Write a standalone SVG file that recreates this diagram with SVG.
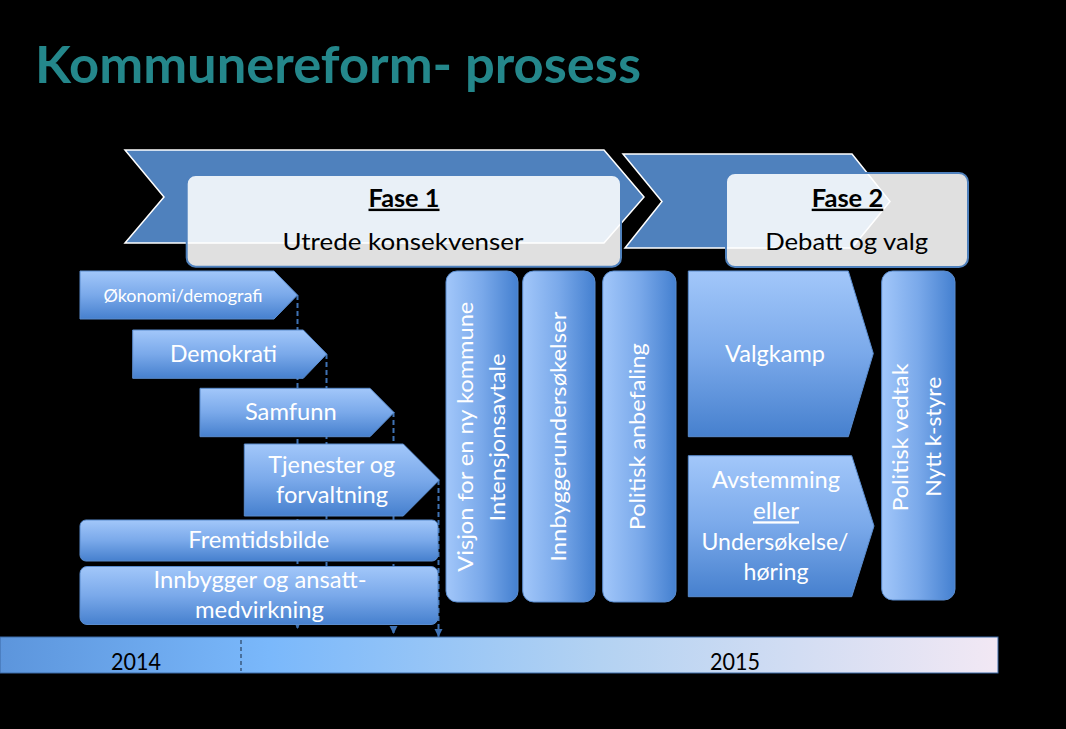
<svg xmlns="http://www.w3.org/2000/svg" width="1066" height="729" viewBox="0 0 1066 729">
<defs>
<style>
text{font-family:Lato,"Open Sans","Liberation Sans",sans-serif;}
.lbl{fill:#ffffff;font-size:23px;text-anchor:middle;}
.sm{font-size:17.5px;}
.rot{fill:#ffffff;font-size:21px;text-anchor:middle;}
.fase{fill:#000000;font-size:24px;text-anchor:middle;}
.yr{fill:#000000;font-size:23px;text-anchor:middle;}
.chev{fill:#4f81bd;stroke:#ffffff;stroke-width:1.5;}
.fbox{fill:#ffffff;fill-opacity:0.88;stroke:#4f81bd;stroke-width:2;}
.pv{fill:url(#gV);stroke:#5a8cce;stroke-width:1;}
.ph{fill:url(#gH);stroke:#5a8cce;stroke-width:1;}
.dash{fill:none;stroke:#3f72b4;stroke-width:2;stroke-dasharray:5 3;}
</style>
<linearGradient id="gV" x1="0" y1="0" x2="0" y2="1">
<stop offset="0" stop-color="#a2c7fa"/>
<stop offset="0.5" stop-color="#7aa9ea"/>
<stop offset="1" stop-color="#4680ce"/>
</linearGradient>
<linearGradient id="gH" x1="0" y1="0" x2="1" y2="0">
<stop offset="0" stop-color="#a2c7fa"/>
<stop offset="0.5" stop-color="#7aa9ea"/>
<stop offset="1" stop-color="#4480d0"/>
</linearGradient>
<linearGradient id="gT" x1="0" y1="0" x2="1" y2="0">
<stop offset="0" stop-color="#5c95dc"/>
<stop offset="0.27" stop-color="#7ab8fb"/>
<stop offset="0.6" stop-color="#b3d2f2"/>
<stop offset="1" stop-color="#f2e8f4"/>
</linearGradient>
<marker id="ah" markerUnits="userSpaceOnUse" markerWidth="9" markerHeight="9" refX="8" refY="4.5" orient="auto">
<path d="M0,0.5 L8,4.5 L0,8.5 z" fill="#3f72b4"/>
</marker>
</defs>
<rect x="0" y="0" width="1066" height="729" fill="#000000"/>

<g id="title">
<text x="35" y="82.7" font-size="51" font-weight="bold" fill="#24878b" textLength="606" lengthAdjust="spacingAndGlyphs">Kommunereform- prosess</text>
</g>

<g id="phase1">
<polygon class="chev" points="125,150 604,150 644,197 604,243 125,243 164,197"/>
</g>
<g id="phase2">
<polygon class="chev" points="623,154 852,154 890,201.5 852,248 625,248 662,201.5"/>
</g>
<g id="fase1-box">
<rect class="fbox" x="186.7" y="175" width="434.3" height="91.7" rx="9"/>
<text class="fase" x="404" y="206.7" font-weight="bold" text-decoration="underline" textLength="71" lengthAdjust="spacingAndGlyphs">Fase 1</text>
<text class="fase" x="403" y="249.5" textLength="241" lengthAdjust="spacingAndGlyphs">Utrede konsekvenser</text>
</g>
<g id="fase2-box">
<rect class="fbox" x="726" y="173" width="242" height="94" rx="9"/>
<text class="fase" x="847.5" y="206.7" font-weight="bold" text-decoration="underline" textLength="71.6" lengthAdjust="spacingAndGlyphs">Fase 2</text>
<text class="fase" x="846.7" y="249.5" textLength="163" lengthAdjust="spacingAndGlyphs">Debatt og valg</text>
</g>

<g id="connectors">
<line class="dash" x1="297.5" y1="295" x2="297.5" y2="629" marker-end="url(#ah)"/>
<line class="dash" x1="326.5" y1="354" x2="326.5" y2="600"/>
<line class="dash" x1="393.5" y1="412" x2="393.5" y2="634" marker-end="url(#ah)"/>
<line class="dash" x1="438.5" y1="480" x2="438.5" y2="637" marker-end="url(#ah)"/>
</g>

<g id="okonomi">
<polygon class="pv" points="80,271 274,271 297.5,295 274,319 80,319"/>
<text class="lbl sm" x="183" y="301.7" textLength="159" lengthAdjust="spacingAndGlyphs">Økonomi/demografi</text>
</g>
<g id="demokrati">
<polygon class="pv" points="132.7,330 303.3,330 326.7,354 303.3,378.3 132.7,378.3"/>
<text class="lbl" x="223.5" y="361.7" textLength="107" lengthAdjust="spacingAndGlyphs">Demokrati</text>
</g>
<g id="samfunn">
<polygon class="pv" points="200,388.3 370,388.3 394,412.5 370,436.7 200,436.7"/>
<text class="lbl" x="290.8" y="420" textLength="91.7" lengthAdjust="spacingAndGlyphs">Samfunn</text>
</g>
<g id="tjenester">
<polygon class="pv" points="244.3,444 403.3,444 439.3,480 403.3,516 244.3,516"/>
<text class="lbl" x="331.7" y="473" textLength="126.7" lengthAdjust="spacingAndGlyphs">Tjenester og</text>
<text class="lbl" x="332" y="503.3" textLength="112" lengthAdjust="spacingAndGlyphs">forvaltning</text>
</g>
<g id="fremtidsbilde">
<rect class="pv" x="80" y="520" width="358" height="41" rx="6"/>
<text class="lbl" x="258.8" y="548.3" textLength="141" lengthAdjust="spacingAndGlyphs">Fremtidsbilde</text>
</g>
<g id="innbygger">
<rect class="pv" x="80" y="566.5" width="358" height="58" rx="7"/>
<text class="lbl" x="260" y="588.3" textLength="213" lengthAdjust="spacingAndGlyphs">Innbygger og ansatt-</text>
<text class="lbl" x="259.5" y="618.3" textLength="129" lengthAdjust="spacingAndGlyphs">medvirkning</text>
</g>

<g id="visjon">
<rect class="ph" x="446" y="271" width="72" height="331" rx="11"/>
<text class="rot" transform="translate(473,436.7) rotate(-90)" textLength="270" lengthAdjust="spacingAndGlyphs">Visjon for en ny kommune</text>
<text class="rot" transform="translate(505,437.5) rotate(-90)" textLength="168" lengthAdjust="spacingAndGlyphs">Intensjonsavtale</text>
</g>
<g id="innbyggerundersokelser">
<rect class="ph" x="522.7" y="271" width="72.3" height="331" rx="11"/>
<text class="rot" transform="translate(566,436.7) rotate(-90)" textLength="250" lengthAdjust="spacingAndGlyphs">Innbyggerundersøkelser</text>
</g>
<g id="politisk-anbefaling">
<rect class="ph" x="602.7" y="271" width="73.3" height="331" rx="11"/>
<text class="rot" transform="translate(645,436.7) rotate(-90)" textLength="187" lengthAdjust="spacingAndGlyphs">Politisk anbefaling</text>
</g>

<g id="valgkamp">
<polygon class="pv" points="688.3,271 848.3,271 873.3,353.5 848.3,436.7 688.3,436.7"/>
<text class="lbl" x="775" y="361.7" textLength="100" lengthAdjust="spacingAndGlyphs">Valgkamp</text>
</g>
<g id="avstemming">
<polygon class="pv" points="688.3,455.7 851.7,455.7 874,526 851.7,596.7 688.3,596.7"/>
<text class="lbl" x="776" y="488.3" textLength="128" lengthAdjust="spacingAndGlyphs">Avstemming</text>
<text class="lbl" x="776" y="519.3" text-decoration="underline" textLength="46" lengthAdjust="spacingAndGlyphs">eller</text>
<text class="lbl" x="775" y="550" textLength="147" lengthAdjust="spacingAndGlyphs">Undersøkelse/</text>
<text class="lbl" x="776" y="580" textLength="65" lengthAdjust="spacingAndGlyphs">høring</text>
</g>
<g id="politisk-vedtak">
<rect class="ph" x="881.7" y="271" width="73.3" height="329" rx="11"/>
<text class="rot" transform="translate(907.5,437.5) rotate(-90)" textLength="148" lengthAdjust="spacingAndGlyphs">Politisk vedtak</text>
<text class="rot" transform="translate(941,436.7) rotate(-90)" textLength="120" lengthAdjust="spacingAndGlyphs">Nytt k-styre</text>
</g>

<g id="timeline">
<rect x="0" y="637" width="998" height="36" fill="url(#gT)" stroke="#3d6aa6" stroke-width="1"/>
<line x1="241" y1="640" x2="241" y2="671" stroke="#1a2a40" stroke-width="1" stroke-dasharray="4 3"/>
<text class="yr" x="136" y="670" textLength="50" lengthAdjust="spacingAndGlyphs">2014</text>
<text class="yr" x="735" y="670" textLength="50" lengthAdjust="spacingAndGlyphs">2015</text>
</g>
</svg>
